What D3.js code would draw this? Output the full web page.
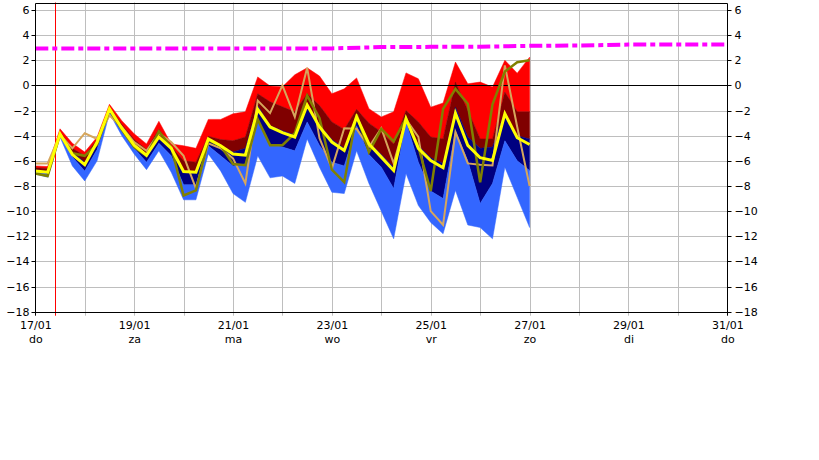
<!DOCTYPE html>
<html><head><meta charset="utf-8">
<script src="https://cdn.jsdelivr.net/npm/d3@7"></script>
<style>
body{margin:0;background:#fff}
svg{display:block}
text{font-family:"DejaVu Sans",sans-serif;font-size:11px;fill:#000}
</style>
</head><body>
<svg id="chart" width="819" height="460"></svg>
<script>
// ---- time axis (6-hourly steps from 17/01/2019 00 UTC) ----
const startTime = Date.UTC(2019, 0, 17, 0);
const endTime = Date.UTC(2019, 0, 31, 0);
const stepHours = 6;

// ---- ensemble plume values (°C) ----
const ensMax = [-6.4,-6.45,-3.45,-4.6,-5.3,-4.1,-1.5,-2.8,-3.85,-4.65,-2.85,-4.65,-4.8,-5.0,-2.7,-2.7,-2.25,-2.1,0.68,-0.05,-0.1,0.85,1.4,0.75,-0.66,-0.27,0.6,-1.85,-2.5,-2.1,1.0,0.53,-1.73,-1.4,1.86,0.13,0.27,-0.13,2.0,0.98,2.25];
const ensP75 = [-6.55,-6.6,-3.7,-5.0,-5.6,-4.3,-1.7,-3.1,-4.3,-5.1,-3.5,-4.85,-6.0,-6.1,-4.05,-4.3,-4.4,-4.1,-0.66,-1.3,-1.7,-2.1,-0.66,-1.6,-2.9,-3.5,-1.9,-3.0,-3.7,-4.65,-2.0,-2.9,-4.1,-4.25,0.27,-2.0,-4.25,-4.25,-0.53,-2.1,-2.1];
const ensP50 = [-6.7,-6.85,-3.85,-5.3,-6.1,-4.6,-1.85,-3.35,-4.6,-5.45,-3.95,-4.95,-6.8,-6.9,-4.2,-4.75,-5.3,-5.0,-1.6,-3.2,-3.6,-3.95,-1.4,-3.1,-4.3,-5.0,-2.3,-4.5,-5.5,-6.5,-2.45,-4.8,-5.75,-6.2,-1.73,-4.1,-5.0,-4.9,-2.1,-4.0,-4.25];
const ensP25 = [-6.85,-7.05,-3.95,-5.7,-6.8,-5.1,-2.0,-3.6,-5.0,-6.1,-4.6,-5.6,-7.9,-7.9,-4.8,-5.6,-6.4,-6.25,-2.65,-4.7,-4.9,-5.2,-2.9,-4.77,-6.1,-6.4,-3.2,-5.5,-6.5,-8.2,-2.9,-6.1,-8.4,-9.0,-3.6,-6.0,-9.4,-7.8,-4.4,-6.0,-6.76];
const ensMin = [-7.05,-7.3,-4.1,-6.4,-7.6,-6.0,-2.2,-4.0,-5.45,-6.7,-5.2,-6.9,-9.1,-9.1,-5.45,-6.8,-8.6,-9.3,-5.6,-7.35,-7.2,-7.8,-4.25,-6.5,-8.5,-8.6,-5.2,-7.8,-10.0,-12.2,-7.0,-9.55,-10.9,-11.8,-8.35,-11.1,-11.3,-12.2,-6.5,-8.9,-11.3];
const ensMean = [-6.8,-6.9,-3.85,-5.5,-6.3,-4.5,-1.85,-3.4,-4.75,-5.55,-4.1,-5.0,-6.85,-6.9,-4.25,-4.8,-5.45,-5.55,-1.9,-3.3,-3.75,-4.1,-1.55,-3.3,-4.5,-5.17,-2.5,-4.65,-5.7,-6.76,-2.65,-5.0,-5.97,-6.55,-2.2,-4.77,-5.75,-5.97,-2.25,-4.16,-4.7];
const operRun = [-7.0,-7.2,-3.9,-5.4,-5.6,-4.7,-1.95,-3.5,-4.9,-5.6,-3.65,-4.9,-8.75,-8.35,-4.35,-4.8,-6.25,-6.35,-2.7,-4.75,-4.75,-3.8,-0.8,-2.6,-6.7,-7.7,-2.3,-5.3,-3.45,-4.45,-2.6,-4.9,-8.4,-1.86,-0.27,-1.46,-7.7,-1.5,1.1,1.85,2.0];
const ctrlRun = [-6.2,-6.2,-3.9,-5.0,-3.8,-4.25,-2.4,-3.3,-4.5,-5.2,-3.8,-4.5,-5.6,-8.2,-4.6,-5.0,-5.8,-7.8,-1.2,-2.2,0.0,-2.5,1.4,-4.2,-6.6,-3.4,-3.45,-4.9,-3.4,-6.2,-2.7,-4.1,-10.0,-11.1,-3.7,-6.2,-6.3,-6.36,1.6,-3.3,-8.0];

// ---- climatology (daily, 17/01 .. 31/01) ----
const climDays = ["2019-01-17","2019-01-18","2019-01-19","2019-01-20","2019-01-21","2019-01-22","2019-01-23","2019-01-24","2019-01-25","2019-01-26","2019-01-27","2019-01-28","2019-01-29","2019-01-30","2019-01-31"];
const climVals = [2.95,2.95,2.95,2.95,2.95,2.95,2.95,3.05,3.07,3.08,3.15,3.18,3.25,3.26,3.26];

// ---- axis ticks ----
const yTicks = [-18,-16,-14,-12,-10,-8,-6,-4,-2,0,2,4,6];
const xTickDates = ["2019-01-17","2019-01-19","2019-01-21","2019-01-23","2019-01-25","2019-01-27","2019-01-29","2019-01-31"];
const xTickLabels = ["17/01","19/01","21/01","23/01","25/01","27/01","29/01","31/01"];
const xDayNames = ["do","za","ma","wo","vr","zo","di","do"];
const nowTime = Date.UTC(2019, 0, 17, 9, 40);

const svg = d3.select("#chart");
const L = 35.3, R = 727.3, T = 2.5, B = 311.7;
const x = d3.scaleUtc().domain([new Date(startTime), new Date(endTime)]).range([L, R]);
const y = d3.scaleLinear().domain([-18, 6.6]).range([B, T]);
const crisp = v => Math.round(v) + 0.5;

const times = ensMax.map((_, i) => new Date(startTime + i * stepHours * 3600e3));

// grid
const g = svg.append("g");
const allDays = d3.utcDay.range(new Date(startTime), new Date(endTime + 1));
allDays.forEach(d => {
  const xx = crisp(x(d));
  if (d.getTime() === startTime || d.getTime() === endTime) return;
  g.append("line").attr("x1", xx).attr("x2", xx).attr("y1", T).attr("y2", B + 4)
    .attr("stroke", "#bebebe").attr("stroke-width", 1);
});
yTicks.forEach(v => {
  if (v === -18 || v === 0) return;
  const yy = crisp(y(v));
  g.append("line").attr("x1", L).attr("x2", R).attr("y1", yy).attr("y2", yy)
    .attr("stroke", "#bebebe").attr("stroke-width", 1);
});

// now line
svg.append("line").attr("x1", crisp(x(new Date(nowTime)))).attr("x2", crisp(x(new Date(nowTime))))
  .attr("y1", T).attr("y2", B + 4).attr("stroke", "#ff0000").attr("stroke-width", 1);

// plume bands
const bands = [
  {top: ensMax, bot: ensP75, color: "#ff0000"},
  {top: ensP75, bot: ensP50, color: "#800000"},
  {top: ensP50, bot: ensP25, color: "#000080"},
  {top: ensP25, bot: ensMin, color: "#3366ff"}
];
bands.forEach(b => {
  const area = d3.area().x((d, i) => x(times[i])).y0((d, i) => y(b.bot[i])).y1((d, i) => y(b.top[i]));
  svg.append("path").datum(times).attr("d", area).attr("fill", b.color).attr("stroke", b.color).attr("stroke-width", 0.5);
});

// zero line
svg.append("line").attr("x1", L).attr("x2", R).attr("y1", crisp(y(0))).attr("y2", crisp(y(0)))
  .attr("stroke", "#000").attr("stroke-width", 1);

// lines
const lineGen = arr => d3.line().x((d, i) => x(times[i])).y((d, i) => y(arr[i]))(times);
svg.append("path").attr("d", lineGen(ctrlRun)).attr("fill", "none").attr("stroke", "#d6a65c").attr("stroke-width", 2).attr("stroke-linejoin", "miter");
svg.append("path").attr("d", lineGen(operRun)).attr("fill", "none").attr("stroke", "#808000").attr("stroke-width", 2.5);
svg.append("path").attr("d", lineGen(ensMean)).attr("fill", "none").attr("stroke", "#ffff00").attr("stroke-width", 3);

// climatology
const climLine = d3.line().x((d, i) => x(new Date(climDays[i] + "T00:00:00Z"))).y(d => y(d));
svg.append("path").attr("d", climLine(climVals)).attr("fill", "none").attr("stroke", "#ff00ff")
  .attr("stroke-width", 4).attr("stroke-dasharray", "13,4,5,4");

// frame
const fr = svg.append("g").attr("stroke", "#000").attr("stroke-width", 1);
fr.append("line").attr("x1", crisp(L)).attr("x2", crisp(L)).attr("y1", crisp(T)).attr("y2", B + 4);
fr.append("line").attr("x1", crisp(R)).attr("x2", crisp(R)).attr("y1", crisp(T)).attr("y2", B + 4);
fr.append("line").attr("x1", crisp(L)).attr("x2", crisp(R)).attr("y1", crisp(T)).attr("y2", crisp(T));
fr.append("line").attr("x1", crisp(L)).attr("x2", crisp(R)).attr("y1", crisp(B)).attr("y2", crisp(B));

// y axes
const yl = svg.append("g").attr("transform", `translate(${crisp(L)},0)`)
  .call(d3.axisLeft(y).tickValues(yTicks).tickSize(4).tickPadding(2).tickFormat(d3.format("d")));
const yr = svg.append("g").attr("transform", `translate(${crisp(R)},0)`)
  .call(d3.axisRight(y).tickValues(yTicks).tickSize(4).tickPadding(3).tickFormat(d3.format("d")));
[yl, yr].forEach(a => {
  a.select(".domain").remove();
  a.selectAll("text").attr("font-family", "DejaVu Sans").attr("font-size", 11).attr("fill", "#000");
  a.selectAll(".tick line").attr("stroke", "#000");
  a.selectAll(".tick").attr("transform", d => `translate(0,${crisp(y(d))})`);
});

// x axis
const xDates = xTickDates.map(s => new Date(s + "T00:00:00Z"));
const xa = svg.append("g").attr("transform", `translate(0,${crisp(B)})`)
  .call(d3.axisBottom(x).tickValues(xDates).tickSize(0).tickPadding(9)
    .tickFormat((d, i) => xTickLabels[i]));
xa.select(".domain").remove();
xa.selectAll("text").attr("font-family", "DejaVu Sans").attr("font-size", 11).attr("fill", "#000");
xa.selectAll(".tick").append("text")
  .attr("y", 30.5).attr("text-anchor", "middle")
  .attr("font-family", "DejaVu Sans").attr("font-size", 11).attr("fill", "#000")
  .text((d, i) => xDayNames[i]);
</script>
</body></html>
